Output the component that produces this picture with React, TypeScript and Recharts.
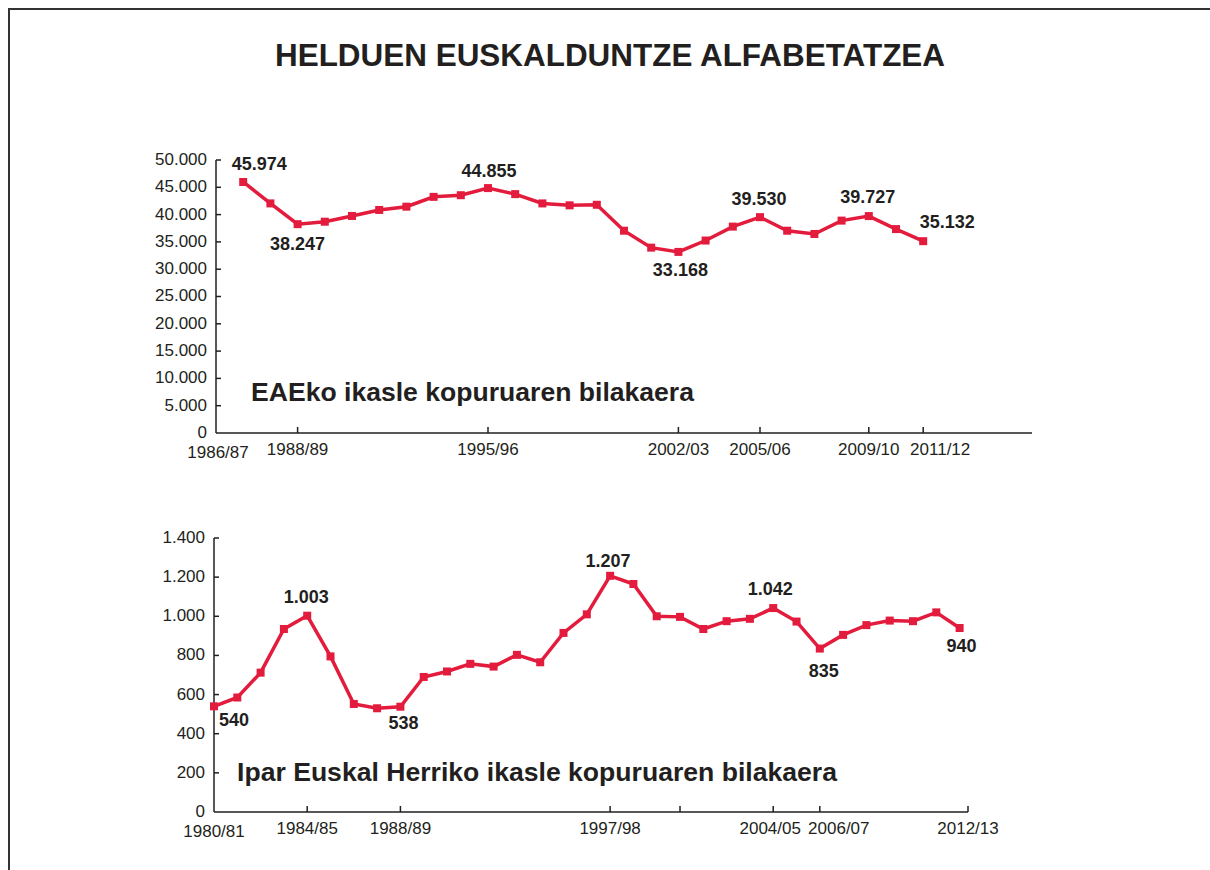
import React from 'react';
import { LineChart, Line, XAxis, YAxis } from 'recharts';

// ---------- DATA ----------
const eaeYears = [1986, 1987, 1988, 1989, 1990, 1991, 1992, 1993, 1994, 1995, 1996, 1997, 1998, 1999, 2000, 2001, 2002, 2003, 2004, 2005, 2006, 2007, 2008, 2009, 2010, 2011];
const eaeStudents = [45974, 42050, 38247, 38700, 39750, 40850, 41450, 43250, 43550, 44855, 43750, 42050, 41700, 41800, 37050, 33950, 33168, 35250, 37800, 39530, 37050, 36450, 38900, 39727, 37350, 35132];

const iparYears = [1980, 1981, 1982, 1983, 1984, 1985, 1986, 1987, 1988, 1989, 1990, 1991, 1992, 1993, 1994, 1995, 1996, 1997, 1998, 1999, 2000, 2001, 2002, 2003, 2004, 2005, 2006, 2007, 2008, 2009, 2010, 2011, 2012];
const iparStudents = [540, 585, 712, 935, 1003, 795, 552, 530, 538, 690, 718, 757, 743, 803, 765, 915, 1010, 1207, 1165, 1000, 997, 935, 975, 987, 1042, 973, 835, 905, 955, 978, 975, 1020, 940];

const eaeYTicks = [0, 5000, 10000, 15000, 20000, 25000, 30000, 35000, 40000, 45000, 50000];
const iparYTicks = [0, 200, 400, 600, 800, 1000, 1200, 1400];

const eaeXTickValues = [1985, 1988, 1995, 2002, 2005, 2009, 2011];
const eaeXTickLabels = ['1986/87', '1988/89', '1995/96', '2002/03', '2005/06', '2009/10', '2011/12'];
const iparXTickValues = [1980, 1984, 1988, 1997, 2000, 2004, 2006, 2012.36];
const iparXTickLabels = ['1980/81', '1984/85', '1988/89', '1997/98', '', '2004/05', '2006/07', '2012/13'];

const TITLE = 'HELDUEN EUSKALDUNTZE ALFABETATZEA';
const EAE_SUBTITLE = 'EAEko ikasle kopuruaren bilakaera';
const IPAR_SUBTITLE = 'Ipar Euskal Herriko ikasle kopuruaren bilakaera';

// ---------- STYLE ----------
const RED = '#e31b3d';
const INK = '#231f20';
const FONT = '"Liberation Sans", Arial, Helvetica, sans-serif';

// horizontal shifts of x tick labels (same order as tick values)
const eaeXTickShift = [2, 0, 0, 0, 0, 0, 17];
const iparXTickShift = [0, 0, 0, 0, 0, -3, 19, 0];

// label offsets (dx, dy) relative to the marker, keyed by year
const eaeLabelOffsets: Record<number, [number, number]> = {
  1986: [16, -18], 1988: [0, 20], 1995: [1, -17], 2002: [2, 18], 2005: [-1, -18], 2009: [-1, -19], 2011: [24, -19],
};
const iparLabelOffsets: Record<number, [number, number]> = {
  1980: [20, 13], 1984: [-1, -19], 1988: [3, 16], 1997: [-2, -15], 2004: [-3, -19], 2006: [4, 22], 2012: [2, 18],
};

const fmt = (v: number) => String(v).replace(/\B(?=(\d{3})+(?!\d))/g, '.');

const eaeData = eaeYears.map((y, i) => ({ year: y, value: eaeStudents[i] }));
const iparData = iparYears.map((y, i) => ({ year: y, value: iparStudents[i] }));

const makeDot = (offsets: Record<number, [number, number]>) => (props: any) => {
  const { cx, cy, payload, index } = props;
  const off = offsets[payload.year];
  return (
    <g key={`dot-${index}`}>
      <rect x={cx - 4} y={cy - 4} width={8} height={8} fill={RED} />
      {off && (
        <text x={cx + off[0]} y={cy + off[1]} dy="0.35em" textAnchor="middle" fontFamily={FONT} fontWeight="bold" fontSize={18} fill={INK}>
          {fmt(payload.value)}
        </text>
      )}
    </g>
  );
};

const makeXTick = (values: number[], labels: string[], shifts: number[]) => (props: any) => {
  const { x, y, payload, index } = props;
  const i = values.indexOf(payload.value);
  const label = i >= 0 ? labels[i] : '';
  const sh = i >= 0 ? shifts[i] : 0;
  return (
    <g key={`xt-${index}`}>
      {i > 0 && <line x1={x} x2={x} y1={y} y2={y - 6} stroke={INK} strokeWidth={1.5} />}
      <text x={x + sh} y={y + (i === 0 ? 25 : 22)} textAnchor="middle" fontFamily={FONT} fontSize={17} fill={INK}>{label}</text>
    </g>
  );
};

const YTick = (props: any) => {
  const { x, y, payload, index } = props;
  return (
    <g key={`yt-${index}`}>
      {payload.value !== 0 && <line x1={x} x2={x + 5} y1={y} y2={y} stroke={INK} strokeWidth={1.5} />}
      <text x={x - 9} y={y - 1} dy="0.35em" textAnchor="end" fontFamily={FONT} fontSize={17} fill={INK}>{fmt(payload.value)}</text>
    </g>
  );
};

export default function App() {
  return (
    <div style={{ position: 'relative', width: 1210, height: 870, background: '#fff', overflow: 'hidden' }}>
      <style>{'body{margin:0;}'}</style>
      <svg width={1210} height={870} style={{ position: 'absolute', left: 0, top: 0 }}>
        <line x1={8} x2={1210} y1={9} y2={9} stroke="#333" strokeWidth={2} />
        <line x1={9} x2={9} y1={8} y2={870} stroke="#333" strokeWidth={2} />
        <text x={610} y={66} textAnchor="middle" fontFamily={FONT} fontWeight="bold" fontSize={32} fill={INK} textLength={670} lengthAdjust="spacingAndGlyphs">{TITLE}</text>
        <text x={251} y={401} fontFamily={FONT} fontWeight="bold" fontSize={26} fill={INK} textLength={443} lengthAdjust="spacingAndGlyphs">{EAE_SUBTITLE}</text>
        <text x={237} y={781} fontFamily={FONT} fontWeight="bold" fontSize={26} fill={INK} textLength={600} lengthAdjust="spacingAndGlyphs">{IPAR_SUBTITLE}</text>
      </svg>

      <div style={{ position: 'absolute', left: 0, top: 0 }}>
        <LineChart width={1210} height={470} data={eaeData} margin={{ top: 160, right: 178, bottom: 7, left: 156 }} style={{ overflow: 'visible' }}>
          <XAxis dataKey="year" type="number" domain={[1985, 2015]} ticks={eaeXTickValues} interval={0} height={30}
            axisLine={{ stroke: INK, strokeWidth: 1.5 }} tickLine={false} tickSize={0} tickMargin={0}
            tick={makeXTick(eaeXTickValues, eaeXTickLabels, eaeXTickShift)} />
          <YAxis type="number" domain={[0, 50000]} ticks={eaeYTicks} interval={0} width={60}
            axisLine={{ stroke: INK, strokeWidth: 1.5 }} tickLine={false} tickSize={0} tickMargin={0}
            tick={YTick} />
          <Line dataKey="value" type="linear" stroke={RED} strokeWidth={3.5} dot={makeDot(eaeLabelOffsets)} activeDot={false} isAnimationActive={false} />
        </LineChart>
      </div>

      <div style={{ position: 'absolute', left: 0, top: 470 }}>
        <LineChart width={1210} height={400} data={iparData} margin={{ top: 68, right: 242, bottom: 28, left: 154 }} style={{ overflow: 'visible' }}>
          <XAxis dataKey="year" type="number" domain={[1980, 2012.36]} ticks={iparXTickValues} interval={0} height={30}
            axisLine={{ stroke: INK, strokeWidth: 1.5 }} tickLine={false} tickSize={0} tickMargin={0}
            tick={makeXTick(iparXTickValues, iparXTickLabels, iparXTickShift)} />
          <YAxis type="number" domain={[0, 1400]} ticks={iparYTicks} interval={0} width={60}
            axisLine={{ stroke: INK, strokeWidth: 1.5 }} tickLine={false} tickSize={0} tickMargin={0}
            tick={YTick} />
          <Line dataKey="value" type="linear" stroke={RED} strokeWidth={3.5} dot={makeDot(iparLabelOffsets)} activeDot={false} isAnimationActive={false} />
        </LineChart>
      </div>
    </div>
  );
}
